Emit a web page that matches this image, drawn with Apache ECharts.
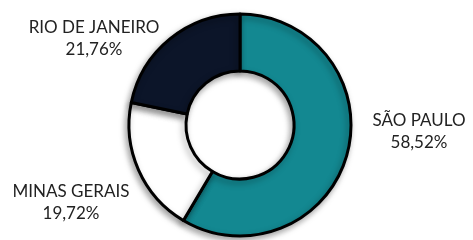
<!DOCTYPE html>
<html>
<head>
<meta charset="utf-8">
<script src="https://cdn.jsdelivr.net/npm/echarts@6/dist/echarts.min.js"></script>
<style>
  html, body { margin: 0; padding: 0; background: #fff; }
  #chart { width: 473px; height: 240px; }
</style>
</head>
<body>
<div id="chart"></div>
<script>
// estados e participação (%)
var estados = ['SÃO PAULO', 'MINAS GERAIS', 'RIO DE JANEIRO'];
var valores = [58.52, 19.72, 21.76];
var cores = ['#138891', '#ffffff', '#0c1529'];

// onde fica cada rótulo (centro do texto)
var posRotulo = [[419, 132], [71, 203], [94, 39]];

var chart = echarts.init(document.getElementById('chart'));

var dados = estados.map(function (nome, i) {
  return { name: nome, value: valores[i], itemStyle: { color: cores[i] } };
});

var option = {
  animation: false,
  series: [
    {
      type: 'pie',
      center: [240, 125],
      radius: [54, 111],
      startAngle: 90,
      clockwise: true,
      itemStyle: {
        borderColor: '#000',
        borderWidth: 3,
        shadowBlur: 6,
        shadowOffsetX: -2,
        shadowOffsetY: 3,
        shadowColor: 'rgba(0,0,0,0.35)'
      },
      label: {
        show: true,
        position: 'outside',
        overflow: 'none',
        fontFamily: 'Lato',
        fontSize: 17,
        lineHeight: 22,
        color: '#222',
        align: 'center',
        formatter: function (p) {
          return p.name + '\n' + p.value.toFixed(2).replace('.', ',') + '%';
        }
      },
      labelLine: { show: false },
      labelLayout: function (p) {
        var pos = posRotulo[p.dataIndex];
        return { x: pos[0], y: pos[1], align: 'center', verticalAlign: 'middle' };
      },
      emphasis: { disabled: true },
      data: dados
    }
  ]
};
chart.setOption(option);
</script>
</body>
</html>
